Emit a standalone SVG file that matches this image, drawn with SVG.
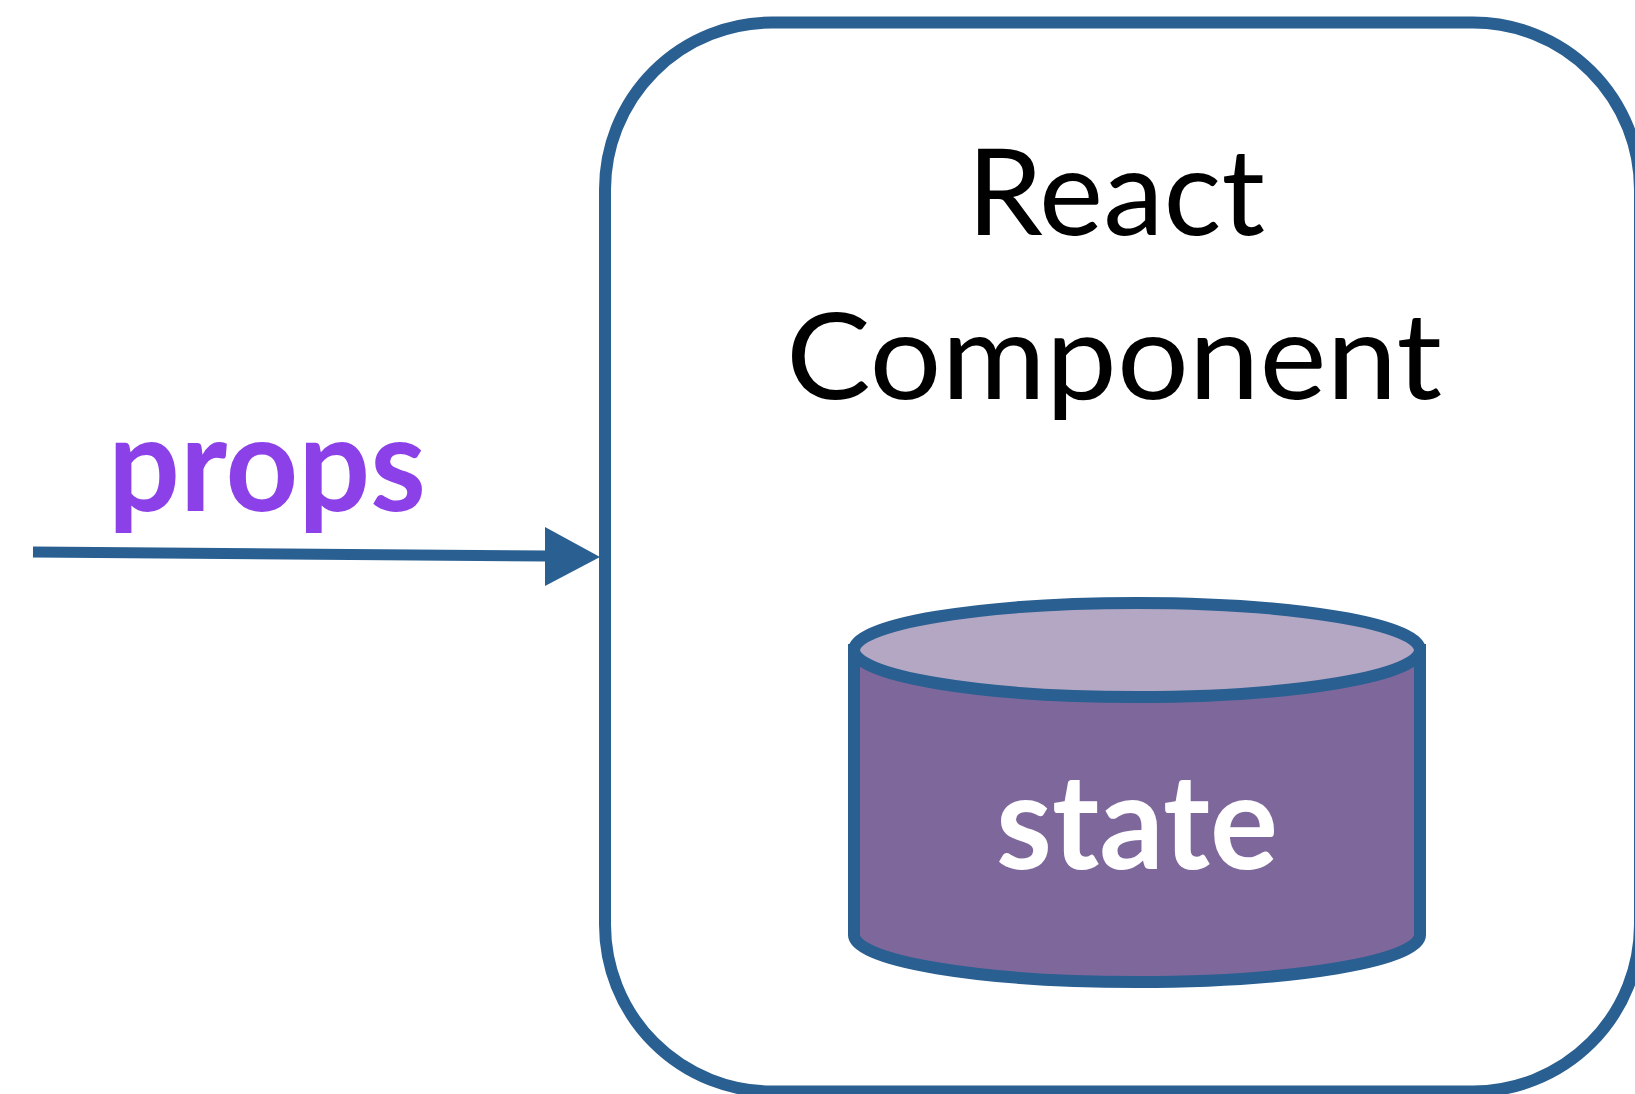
<svg xmlns="http://www.w3.org/2000/svg" width="1635" height="1094" viewBox="0 0 1635 1094">
<style>
.edge{stroke:#2A5F91;stroke-width:12;}
.lbl{font-family:Lato,"Open Sans","Liberation Sans",sans-serif;text-anchor:middle;}
.big{font-size:121px;fill:#000;}
.bold{font-size:132px;font-weight:bold;}
</style>
<rect width="1635" height="1094" fill="#FFFFFF"/>
<g id="component">
<rect class="edge" x="605" y="22.5" width="1035" height="1069" rx="167" ry="167" fill="#FFFFFF"/>
<text class="lbl big" x="1116" y="235" textLength="298" lengthAdjust="spacingAndGlyphs">React</text>
<text class="lbl big" x="1114" y="399" textLength="656" lengthAdjust="spacingAndGlyphs">Component</text>
</g>
<g id="state">
<path class="edge" d="M854,650 L854,935 A283,47 0 0 0 1420,935 L1420,650 Z" fill="#7E689B"/>
<ellipse class="edge" cx="1137" cy="650" rx="283" ry="47" fill="#B4A7C3"/>
<text class="lbl bold" x="1137" y="869" fill="#FFFFFF" textLength="282" lengthAdjust="spacingAndGlyphs">state</text>
</g>
<g id="connectors">
<line x1="33" y1="552" x2="548" y2="556" stroke="#2A5F91" stroke-width="11"/>
<polygon points="545,527 600,557 545,586" fill="#2A5F91"/>
<text id="props-label" class="lbl bold" x="267" y="511" fill="#8C41E8" textLength="318" lengthAdjust="spacingAndGlyphs">props</text>
</g>
</svg>
